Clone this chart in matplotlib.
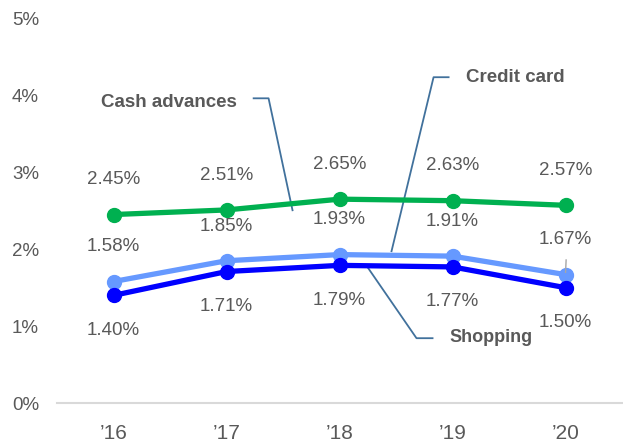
import matplotlib
matplotlib.use("Agg")
from matplotlib import pyplot as plt

years = ["\u201916", "\u201917", "\u201918", "\u201919", "\u201920"]
cash_advances = [2.45, 2.51, 2.65, 2.63, 2.57]
credit_card = [1.58, 1.85, 1.93, 1.91, 1.67]
shopping = [1.40, 1.71, 1.79, 1.77, 1.50]
y_ticks = [0, 1, 2, 3, 4, 5]

text_color = "#595959"
leader_color = "#41719C"
plt.rcParams["font.family"] = ["Liberation Sans", "DejaVu Sans"]

fig = plt.figure(figsize=(6.23, 4.45), dpi=100)
ax = fig.add_axes([0.0915, 0.094, 0.907, 0.865])

x = list(range(len(years)))
ax.plot(x, cash_advances, color="#00B050", lw=3.8, marker="o", ms=10, zorder=3)
ax.plot(x, credit_card, color="#6699FF", lw=3.8, marker="o", ms=10, zorder=3)
ax.plot(x, shopping, color="#0000FF", lw=3.8, marker="o", ms=10, zorder=3)

label_font = dict(fontsize=13.5, color=text_color, ha="center", va="center")
for i in x:
    ax.annotate(f"{cash_advances[i]:.2f}%", (i, cash_advances[i]), xytext=(0, 25),
                textcoords="offset points", **label_font)
    ax.annotate(f"{credit_card[i]:.2f}%", (i, credit_card[i]), xytext=(0, 25),
                textcoords="offset points", **label_font)
    ax.annotate(f"{shopping[i]:.2f}%", (i, shopping[i]), xytext=(0, -25),
                textcoords="offset points", **label_font)

# small leader for the last light blue label
ax.plot([4.0, 4.005], [1.70, 1.86], color="#A6A6A6", lw=1, zorder=4)

# series callouts
ax.plot([1.24, 1.372, 1.584], [3.96, 3.96, 2.506], color=leader_color, lw=1.3, zorder=2)
ax.text(1.09, 3.90, "Cash advances", fontsize=13.5, fontweight="bold", color=text_color,
        ha="right", va="center")
ax.plot([2.965, 2.832, 2.46], [4.234, 4.234, 1.974], color=leader_color, lw=1.3, zorder=2)
ax.text(3.12, 4.23, "Credit card", fontsize=13.5, fontweight="bold", color=text_color,
        ha="left", va="center")
ax.plot([2.248, 2.681, 2.823], [1.766, 0.844, 0.844], color=leader_color, lw=1.3, zorder=2)
ax.text(2.97, 0.85, "Shopping", fontsize=13, fontweight="bold", color=text_color,
        ha="left", va="center")

ax.set_xlim(-0.5, 4.5)
ax.set_ylim(0, 5)
ax.set_xticks(x)
ax.set_xticklabels(years)
ax.set_yticks(y_ticks)
ax.set_yticklabels([f"{t}%" for t in y_ticks])
ax.tick_params(axis="both", length=0, colors=text_color, labelsize=13.5)
ax.tick_params(axis="x", pad=15, labelsize=15)
ax.tick_params(axis="y", pad=13)
for side in ["left", "right", "top"]:
    ax.spines[side].set_visible(False)
ax.spines["bottom"].set_color("#D9D9D9")
ax.spines["bottom"].set_linewidth(1.5)

fig.savefig("out.png", dpi=100)
